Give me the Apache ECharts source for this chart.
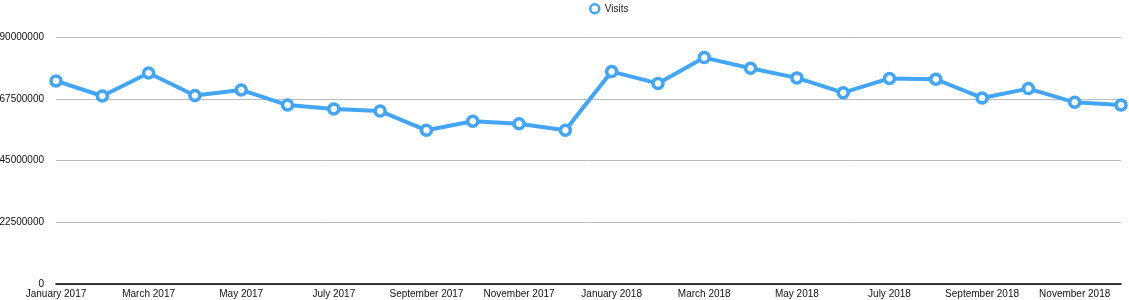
<!DOCTYPE html>
<html>
<head>
<meta charset="utf-8">
<script src="https://cdn.jsdelivr.net/npm/echarts@6/dist/echarts.min.js"></script>
<style>
html,body{margin:0;padding:0;background:#fff;}
#chart{width:1129px;height:300px;}
</style>
</head>
<body>
<div id="chart"></div>
<script>
const categories = [
  "January 2017","February 2017","March 2017","April 2017","May 2017","June 2017",
  "July 2017","August 2017","September 2017","October 2017","November 2017","December 2017",
  "January 2018","February 2018","March 2018","April 2018","May 2018","June 2018",
  "July 2018","August 2018","September 2018","October 2018","November 2018","December 2018"
];
const visits = [
  74000000, 68500000, 76900000, 68700000, 70700000, 65200000,
  63800000, 63000000, 56000000, 59300000, 58400000, 56000000,
  77400000, 73100000, 82500000, 78600000, 75100000, 69700000,
  74900000, 74600000, 67800000, 71200000, 66200000, 65200000
];
const yTicks = [0, 22500000, 45000000, 67500000, 90000000];

const chart = echarts.init(document.getElementById('chart'));
chart.setOption({
  animation: false,
  textStyle: { fontFamily: 'Liberation Sans, Arial, Helvetica, sans-serif' },
  legend: {
    top: -2,
    left: 584,
    itemWidth: 10,
    itemHeight: 9,
    itemGap: 5,
    textStyle: { fontSize: 10, color: '#222' },
    data: [{ name: 'Visits', icon: 'circle', itemStyle: { color: '#fff', borderColor: '#42a5f5', borderWidth: 2.5 } }]
  },
  grid: { left: 56, right: 8, top: 37, bottom: 16, containLabel: false, outerBoundsMode: 'none' },
  xAxis: {
    type: 'category',
    data: categories,
    boundaryGap: false,
    axisLine: { lineStyle: { color: '#000', width: 1.5 } },
    axisTick: { show: false },
    axisLabel: { interval: 1, fontSize: 10, color: '#111', margin: 5 },
    splitLine: { show: false }
  },
  yAxis: {
    type: 'value',
    min: yTicks[0],
    max: yTicks[yTicks.length - 1],
    interval: yTicks[1] - yTicks[0],
    axisLine: { show: false },
    axisTick: { show: false },
    axisLabel: { fontSize: 10, color: '#111', margin: 12, formatter: function (v) { return String(v); } },
    splitLine: { lineStyle: { color: '#bbbbbb', width: 1 } }
  },
  series: [{
    name: 'Visits',
    type: 'line',
    data: visits,
    symbol: 'circle',
    symbolSize: 10,
    showAllSymbol: true,
    lineStyle: { color: '#42a5f5', width: 4 },
    itemStyle: { color: '#ffffff', borderColor: '#42a5f5', borderWidth: 3.5 }
  }]
});
</script>
</body>
</html>
